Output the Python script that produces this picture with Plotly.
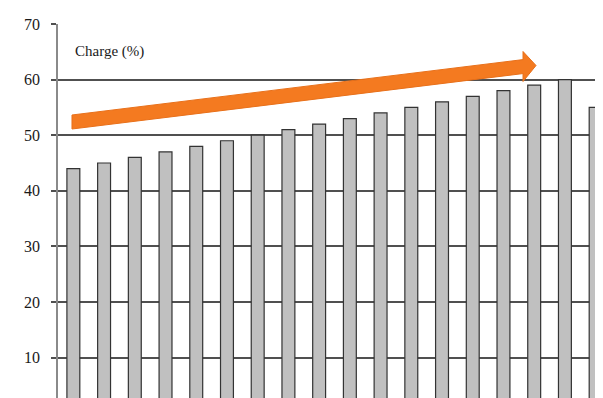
import plotly.graph_objects as go

categories = [str(i) for i in range(1, 19)]
charge_values = [44, 45, 46, 47, 48, 49, 50, 51, 52, 53, 54, 55, 56, 57, 58, 59, 60, 55]
y_ticks = [0, 10, 20, 30, 40, 50, 60, 70]

W, H = 603, 398
ML, MT, MR, MB = 50, 16, 0, 0
PW, PH = W - ML - MR, H - MT - MB

def px(x, y):
    return ((x - ML) / PW, (H - MB - y) / PH)

FONT = "Liberation Serif, DejaVu Serif Condensed, serif"

fig = go.Figure()
fig.add_trace(go.Bar(
    x=categories, y=charge_values,
    marker=dict(color="#c0c0c0", line=dict(color="#333333", width=1.2)),
))

# orange arrow decoration (pixel outline -> paper coords)
pts = [(64, 107), (515, 51.6), (515, 43.5), (528, 57.5), (515, 73.5), (515, 65.6), (64, 121)]
path = ""
for i, (xx, yy) in enumerate(pts):
    a, b = px(xx, yy)
    path += ("M" if i == 0 else "L") + f"{a:.4f},{b:.4f} "
path += "Z"
fig.add_shape(type="path", path=path, xref="paper", yref="paper",
              fillcolor="#F47A20", line=dict(color="#E8701A", width=1), layer="above")

ax, ay = px(65, 44)
fig.add_annotation(text="Charge (%)", x=ax, y=ay, xref="paper", yref="paper",
                   xanchor="left", yanchor="middle", showarrow=False,
                   font=dict(family=FONT, size=15, color="#1a1a1a"))

fig.update_layout(
    width=W, height=H,
    margin=dict(l=ML, r=MR, t=MT, b=MB),
    paper_bgcolor="white", plot_bgcolor="white",
    showlegend=False,
    bargap=0.58,
    font=dict(family=FONT, size=16, color="#1a1a1a"),
)
fig.update_xaxes(showticklabels=False, showgrid=False, zeroline=False, showline=False,
                 range=[-0.5, len(categories) - 0.5])
fig.update_yaxes(range=[1.3, 70], tickvals=y_ticks, showgrid=True, gridcolor="#505050",
                 gridwidth=1.5, zeroline=False, showline=True, linecolor="#8a8a8a", linewidth=1.5,
                 ticks="outside", ticklen=5, tickcolor="#505050", tickwidth=1.5,
                 ticklabelstandoff=8)

fig.write_html("out.html")
